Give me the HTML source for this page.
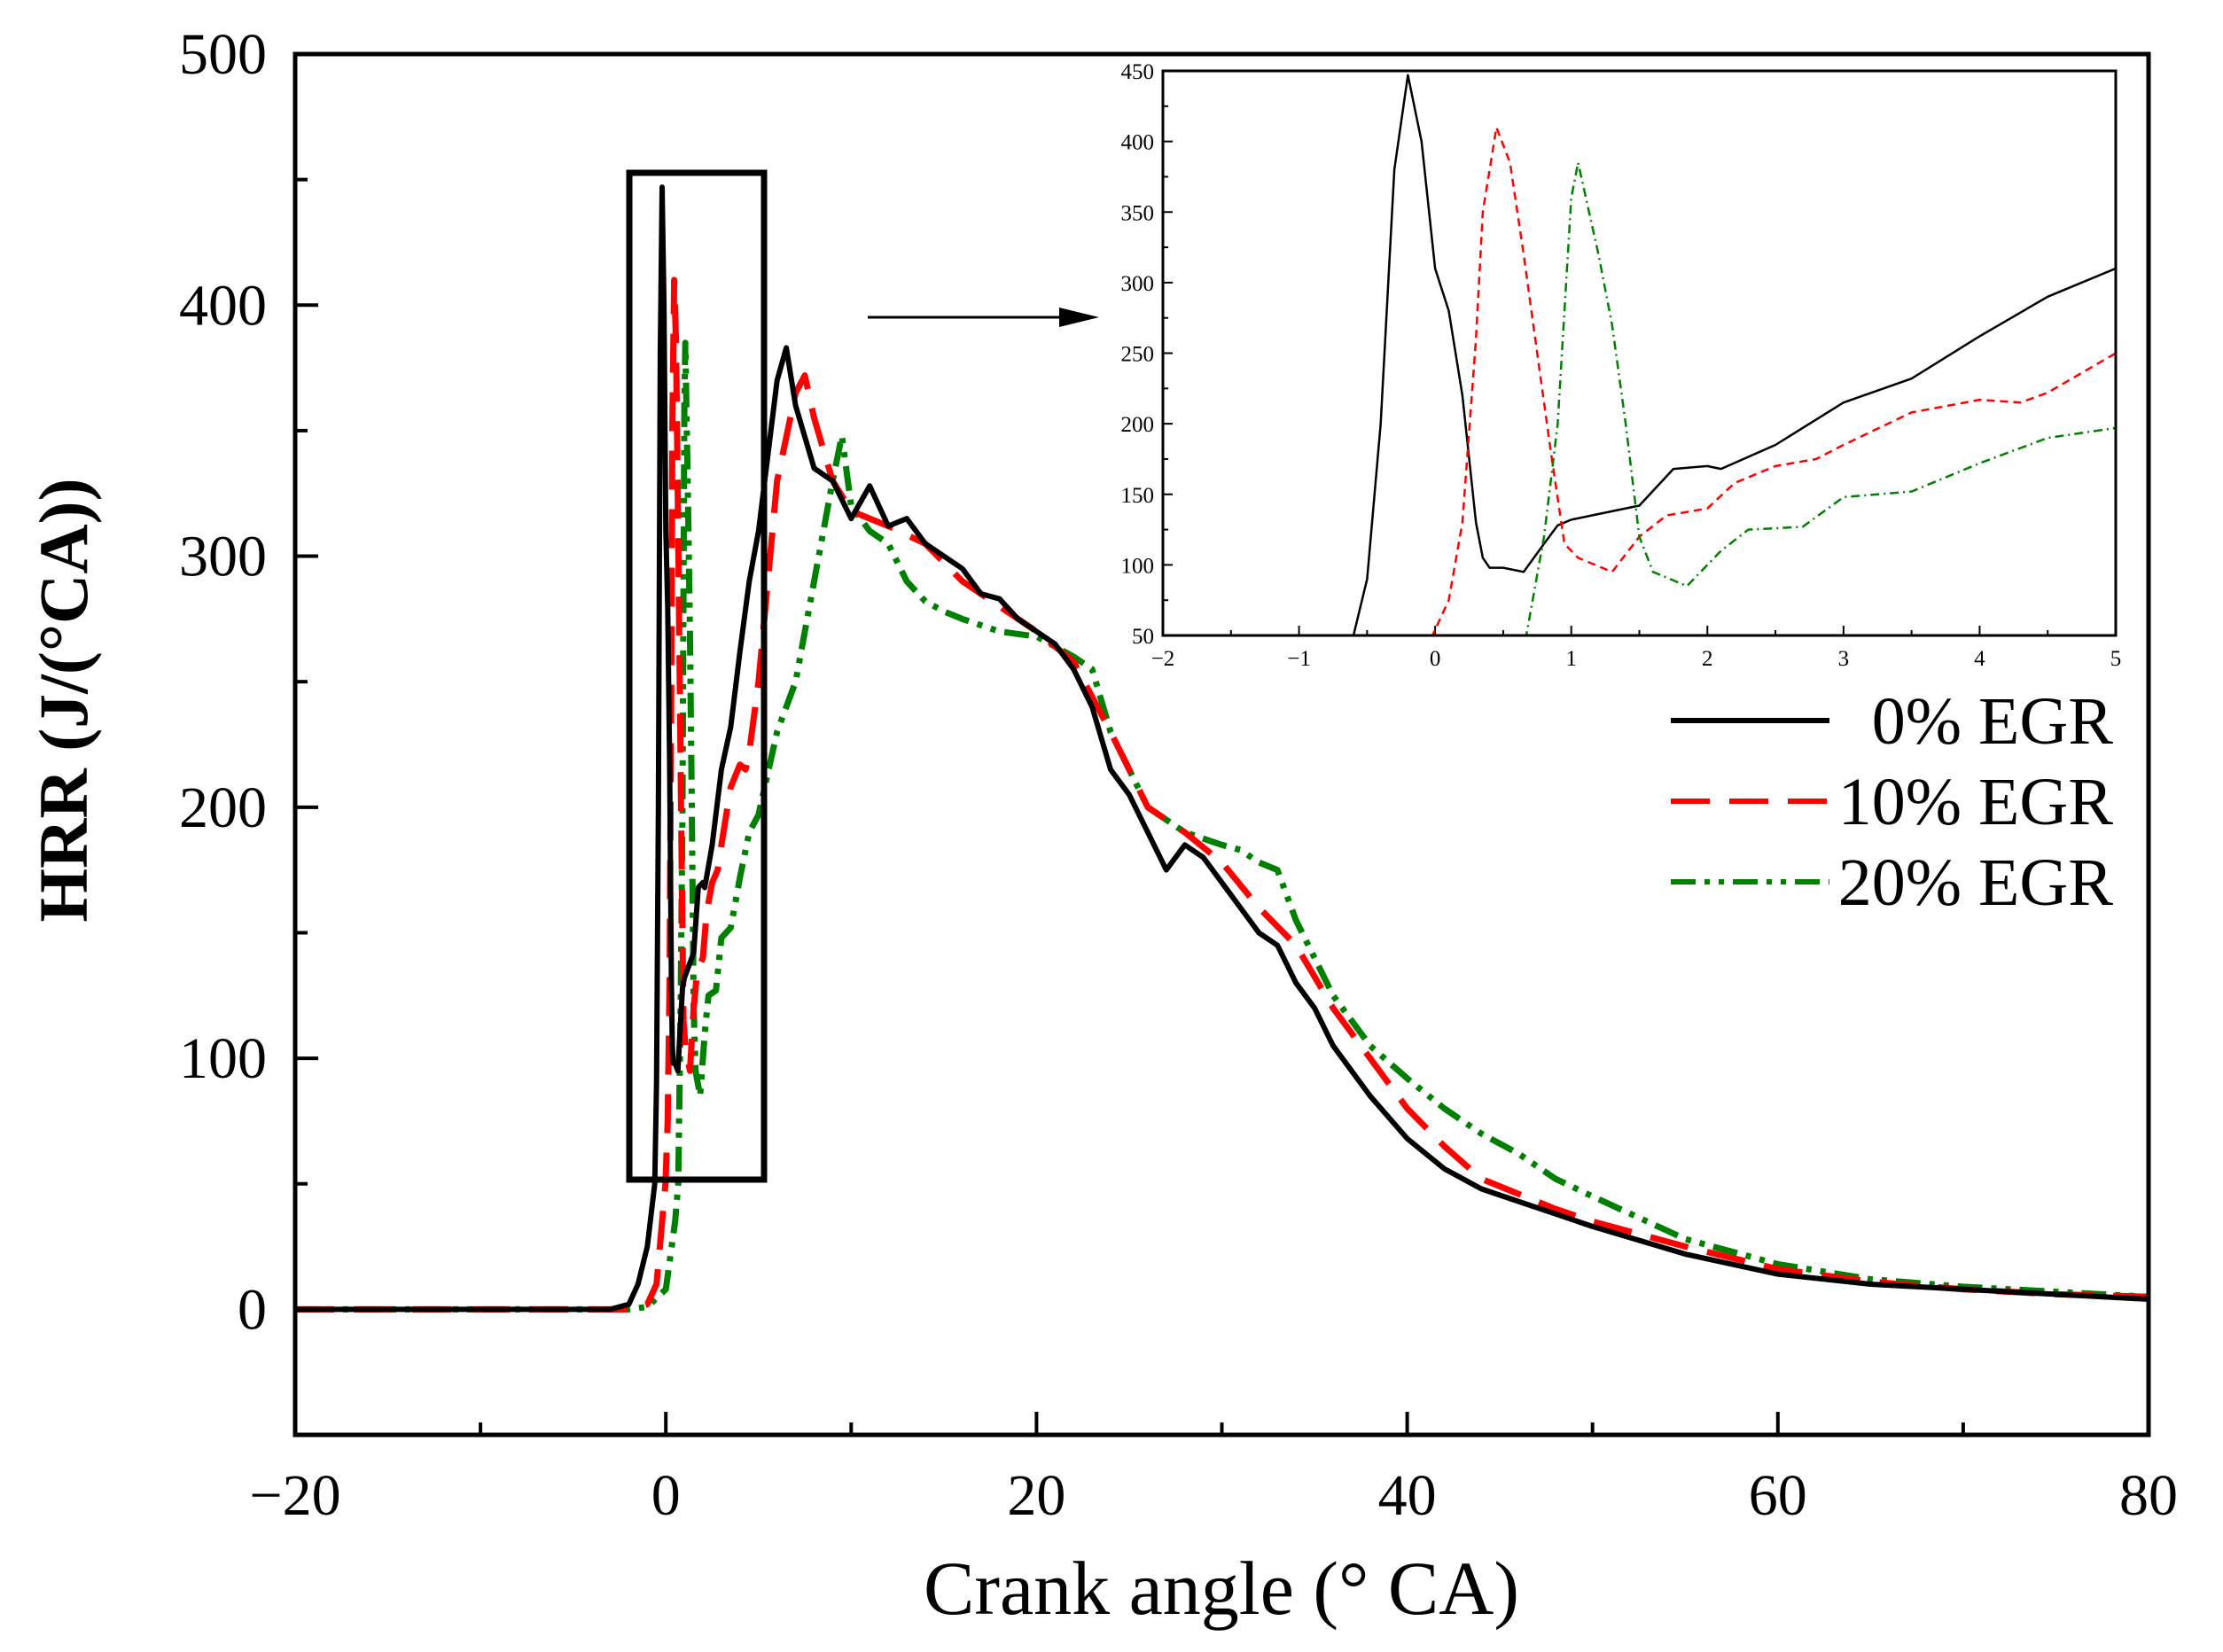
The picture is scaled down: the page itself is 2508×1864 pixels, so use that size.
<!DOCTYPE html>
<html><head><meta charset="utf-8"><style>
html,body{margin:0;padding:0;background:#fff;}
svg{display:block;font-family:"Liberation Serif",serif;}
</style></head><body>
<svg id="chart" width="2508" height="1864" viewBox="0 0 2508 1864" xmlns="http://www.w3.org/2000/svg">
<defs>
<clipPath id="mainClip"><rect x="333" y="61" width="2091" height="1558"/></clipPath>
<clipPath id="insetClip"><rect x="1312" y="80" width="1075" height="637"/></clipPath>
</defs>
<rect width="2508" height="1864" fill="#fff"/>
<g id="main"></g>
<g id="inset"></g>
<g id="legend"></g>
<text x="1378" y="1821" font-size="86" text-anchor="middle">Crank angle (° CA)</text>
<text transform="translate(98,790) rotate(-90)" font-size="78" font-weight="bold" text-anchor="middle">HRR (J/(°CA))</text>
<rect x="710" y="195" width="152" height="1136" fill="none" stroke="#000" stroke-width="7"/>
<line x1="979" y1="358" x2="1200" y2="358" stroke="#000" stroke-width="3"/>
<polygon points="1240,358 1195,347 1195,369" fill="#000"/>
</svg>
<script>
const angle = [-20,-3,-2,-1.5,-1,-0.6,-0.5,-0.4,-0.3,-0.2,-0.1,0,0.1,0.2,0.3,0.35,0.4,0.5,0.65,0.8,0.9,1,1.2,1.5,1.75,2,2.1,2.5,3,3.5,4,4.5,5,6,6.5,7,8,9,10,11,12,13,14,15,16,17,18,19,20,21,22,23,24,25,26,27,28,29,30,31,32,33,34,35,36,37,38,40,42,44,46,48,50,55,60,65,70,75,80];
const egr0 = [0,0,2,10,25,50,90,200,380,447,400,310,280,220,130,105,98,98,95,115,128,132,136,142,168,170,168,185,215,232,262,290,310,370,383,360,335,330,315,328,312,315,305,300,295,285,283,275,270,265,255,240,215,205,190,175,185,180,170,160,150,145,130,120,105,95,85,68,56,48,43,38,33,22,14,10,8,6,4];
const angle10 = [-20,-2,-1,-0.5,-0.02,0.1,0.2,0.3,0.35,0.45,0.55,0.65,0.75,0.85,0.95,1.05,1.3,1.5,1.7,2,2.2,2.5,2.8,3,3.5,4,4.3,4.5,5,6,7,7.5,8,9,10,12,14,16,18,20,22,24,25,26,28,30,32,34,36,38,40,42,44,46,48,50,55,60,65,70,75,80];
const egr10 = [0,0,2,10,50,75,130,260,350,410,385,320,250,180,115,105,95,120,135,140,158,170,175,185,208,217,215,222,250,330,365,372,355,330,318,312,305,290,280,270,258,230,215,200,190,178,160,145,120,100,80,65,52,46,40,35,25,16,11,8,6,5];
const angle20 = [-20,-2,-1,0,0.5,0.67,0.8,0.9,1.0,1.05,1.2,1.3,1.4,1.5,1.6,1.85,2.1,2.3,2.7,3,3.5,3.7,4,4.5,5,6,7,8,9,9.5,10,11,12,13,14,15,16,18,20,22,23,24,25,26,28,30,31,32,33,34,35,36,38,40,42,44,46,48,50,55,60,65,70,75,80];
const egr20 = [0,0,1,8,35,50,120,200,360,385,320,270,200,120,95,85,110,125,127,148,152,160,172,190,197,230,250,290,330,348,320,310,305,290,282,278,275,270,268,260,255,230,215,200,190,185,183,178,175,155,140,125,105,92,80,70,62,52,45,28,18,12,9,7,5];
const xTicks = [-20,0,20,40,60,80];
const yTicks = [0,100,200,300,400,500];
const insetXTicks = [-2,-1,0,1,2,3,4,5];
const insetYTicks = [50,100,150,200,250,300,350,400,450];
const seriesNames = ["0%  EGR","10% EGR","20% EGR"];

const NS="http://www.w3.org/2000/svg";
function mk(tag,attrs,parent){const e=document.createElementNS(NS,tag);for(const k in attrs)e.setAttribute(k,attrs[k]);parent.appendChild(e);return e;}
const main=document.getElementById('main'), inset=document.getElementById('inset'), legend=document.getElementById('legend');

const L=333,R=2424,T=61,B=1619;
const mx=v=>L+(v+20)/100*(R-L);
const my=v=>B-(v+50)/550*(B-T);
const iL=1312,iR=2387,iT=80,iB=717;
const ix=v=>iL+(v+2)/7*(iR-iL);
const iy=v=>iB-(v-50)/400*(iB-iT);

const styles=[
 {c:"#000",dm:"",di:""},
 {c:"#ff0000",dm:"44 22",di:"9 6"},
 {c:"#008000",dm:"28 10 6 10 6 10",di:"10 5 2 5"}
];
const xs=[angle,angle10,angle20], ys=[egr0,egr10,egr20];
const names=['egr0','egr10','egr20'];

for(let v=-10;v<80;v+=20){const t=mk('line',{x1:mx(v),x2:mx(v),y1:B,y2:B-14,stroke:'#000','stroke-width':4},main);

}
xTicks.forEach(v=>{const t=mk('line',{x1:mx(v),x2:mx(v),y1:B,y2:B-26,stroke:'#000','stroke-width':4},main);


const l=mk('text',{x:mx(v),y:1709,'font-size':66,'text-anchor':'middle'},main);l.textContent=(v<0?'\u2212'+(-v):v);

});
for(let v=50;v<500;v+=100){const t=mk('line',{x1:L,x2:L+14,y1:my(v),y2:my(v),stroke:'#000','stroke-width':4},main);

}
yTicks.forEach(v=>{const t=mk('line',{x1:L,x2:L+26,y1:my(v),y2:my(v),stroke:'#000','stroke-width':4},main);


const l=mk('text',{x:301,y:my(v)+22,'font-size':66,'text-anchor':'end'},main);l.textContent=v;

});

const gm=mk('g',{'clip-path':'url(#mainClip)'},main);
[2,1,0].forEach(i=>{
 const d=xs[i].map((x,j)=>(j?'L':'M')+mx(x).toFixed(1)+','+my(ys[i][j]).toFixed(1)).join('');
 const p=mk('path',{d:d,fill:'none',stroke:styles[i].c,'stroke-width':i==0?6:7,'stroke-dasharray':styles[i].dm,'stroke-linejoin':'round'},gm);
 
 
});
const fr=mk('rect',{x:L,y:T,width:R-L,height:B-T,fill:'none',stroke:'#000','stroke-width':5},main);



const ib=mk('rect',{x:iL,y:iT,width:iR-iL,height:iB-iT,fill:'#fff',stroke:'none'},inset);


for(let v=-1.5;v<5;v+=1){const t=mk('line',{x1:ix(v),x2:ix(v),y1:iB,y2:iB-6,stroke:'#000','stroke-width':2},inset);

}
insetXTicks.forEach(v=>{const t=mk('line',{x1:ix(v),x2:ix(v),y1:iB,y2:iB-11,stroke:'#000','stroke-width':2},inset);


const l=mk('text',{x:ix(v),y:iB+34,'font-size':25,'text-anchor':'middle'},inset);l.textContent=(v<0?'\u2212'+(-v):v);

});
for(let v=75;v<450;v+=50){const t=mk('line',{x1:iL,x2:iL+6,y1:iy(v),y2:iy(v),stroke:'#000','stroke-width':2},inset);

}
insetYTicks.forEach(v=>{const t=mk('line',{x1:iL,x2:iL+11,y1:iy(v),y2:iy(v),stroke:'#000','stroke-width':2},inset);


const l=mk('text',{x:iL-10,y:iy(v)+9,'font-size':25,'text-anchor':'end'},inset);l.textContent=v;

});
const gi=mk('g',{'clip-path':'url(#insetClip)'},inset);
[0,1,2].forEach(i=>{
 const d=xs[i].map((x,j)=>(j?'L':'M')+ix(x).toFixed(1)+','+iy(ys[i][j]).toFixed(1)).join('');
 const p=mk('path',{d:d,fill:'none',stroke:styles[i].c,'stroke-width':2.5,'stroke-dasharray':styles[i].di,'stroke-linejoin':'round'},gi);
 
 
});
const ifr=mk('rect',{x:iL,y:iT,width:iR-iL,height:iB-iT,fill:'none',stroke:'#000','stroke-width':3},inset);



[813,904,995].forEach((y,i)=>{
 const ln=mk('line',{x1:1885,x2:2064,y1:y,y2:y,stroke:styles[i].c,'stroke-width':6,'stroke-dasharray':styles[i].dm},legend);
 
 
 const t=mk('text',{x:2384,y:y+26,'font-size':76,'text-anchor':'end','xml:space':'preserve'},legend);
 t.textContent=seriesNames[i];
 
 
});
</script>
</body></html>
